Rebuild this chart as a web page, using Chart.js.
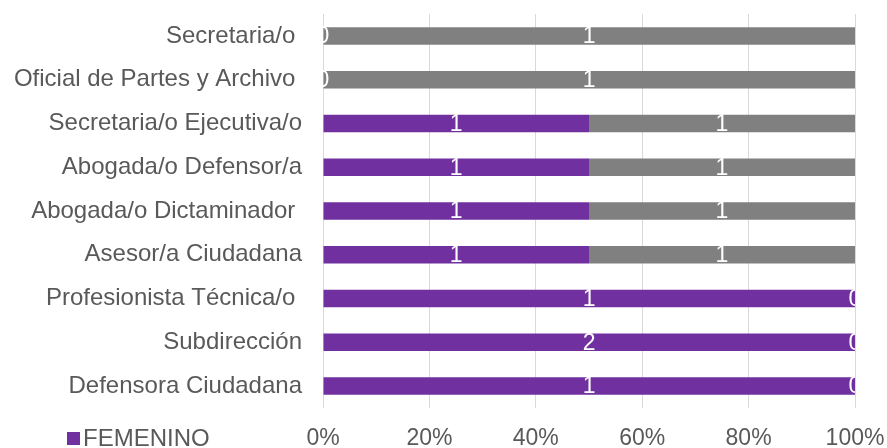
<!DOCTYPE html>
<html>
<head>
<meta charset="utf-8">
<script src="https://cdn.jsdelivr.net/npm/chart.js@4"></script>
<style>
  html, body { margin: 0; padding: 0; background: #ffffff; }
  #wrap { position: relative; width: 887px; height: 448px; }
  #legend { position: absolute; left: 67px; top: 424px; font-family: "Liberation Sans", Arial, sans-serif; font-size: 24px; color: #595959; display: flex; align-items: center; white-space: nowrap; }
  #legend .sw { width: 13px; height: 13px; margin-right: 3px; display: inline-block; }
</style>
</head>
<body>
<div id="wrap">
  <canvas id="c" width="887" height="448"></canvas>
  <div id="legend"></div>
</div>
<script>
const categories = [
  "Secretaria/o ",
  "Oficial de Partes y Archivo ",
  "Secretaria/o Ejecutiva/o",
  "Abogada/o Defensor/a",
  "Abogada/o Dictaminador ",
  "Asesor/a Ciudadana",
  "Profesionista Técnica/o ",
  "Subdirección",
  "Defensora Ciudadana"
];
const femenino  = [0, 0, 1, 1, 1, 1, 1, 2, 1];
const masculino = [1, 1, 1, 1, 1, 1, 0, 0, 0];
const seriesNames = ["FEMENINO", "MASCULINO"];
const seriesColors = ["#7030A0", "#808080"];
const xTickValues = [0, 20, 40, 60, 80, 100];

const totals = categories.map((_, i) => femenino[i] + masculino[i]);
const pct = arr => arr.map((v, i) => totals[i] ? v / totals[i] * 100 : 0);

const FONT = '"Liberation Sans", Arial, sans-serif';

const labelPlugin = {
  id: 'segLabels',
  afterDatasetsDraw(chart) {
    const ctx = chart.ctx;
    const area = chart.chartArea;
    ctx.save();
    ctx.beginPath();
    ctx.rect(area.left, area.top, area.right - area.left, area.bottom - area.top);
    ctx.clip();
    ctx.fillStyle = '#ffffff';
    ctx.font = '23px ' + FONT;
    ctx.textAlign = 'center';
    ctx.textBaseline = 'middle';
    chart.data.datasets.forEach((ds, di) => {
      const meta = chart.getDatasetMeta(di);
      meta.data.forEach((el, i) => {
        const cx = (el.base + el.x) / 2;
        ctx.fillText(String(ds.counts[i]), cx, el.y + 1);
      });
    });
    ctx.restore();
  }
};

function zeroPad(s) { s.paddingTop = 0; s.paddingBottom = 0; s.paddingLeft = 0; s.paddingRight = 0; }

const chart = new Chart(document.getElementById('c'), {
  type: 'bar',
  data: {
    labels: categories,
    datasets: [
      { label: seriesNames[0], data: pct(femenino), counts: femenino, backgroundColor: seriesColors[0], borderWidth: 0 },
      { label: seriesNames[1], data: pct(masculino), counts: masculino, backgroundColor: seriesColors[1], borderWidth: 0 }
    ]
  },
  options: {
    indexAxis: 'y',
    responsive: false,
    animation: false,
    layout: { autoPadding: false, padding: { left: 14, right: 32, top: 14, bottom: 1 } },
    datasets: { bar: { categoryPercentage: 1.0, barPercentage: 0.4 } },
    plugins: { legend: { display: false }, tooltip: { enabled: false } },
    scales: {
      x: {
        stacked: true, min: 0, max: 100,
        afterBuildTicks: s => { s.ticks = xTickValues.map(v => ({ value: v })); },
        afterFit: s => { s.height = 39; zeroPad(s); },
        ticks: { callback: v => v + '%', color: '#595959', font: { family: FONT, size: 23, lineHeight: 1 }, padding: 19, maxRotation: 0 },
        grid: { color: '#D9D9D9', lineWidth: 1, drawTicks: false },
        border: { display: false }
      },
      y: {
        stacked: true,
        afterFit: s => { s.width = 309; zeroPad(s); },
        ticks: { color: '#595959', font: { family: FONT, size: 24 }, padding: 21 },
        grid: { display: false, drawTicks: false },
        border: { display: false }
      }
    }
  },
  plugins: [labelPlugin]
});

const legend = document.getElementById('legend');
const sw = document.createElement('span'); sw.className = 'sw'; sw.style.background = seriesColors[0];
const tx = document.createElement('span'); tx.textContent = seriesNames[0];
legend.appendChild(sw); legend.appendChild(tx);
</script>
</body>
</html>
